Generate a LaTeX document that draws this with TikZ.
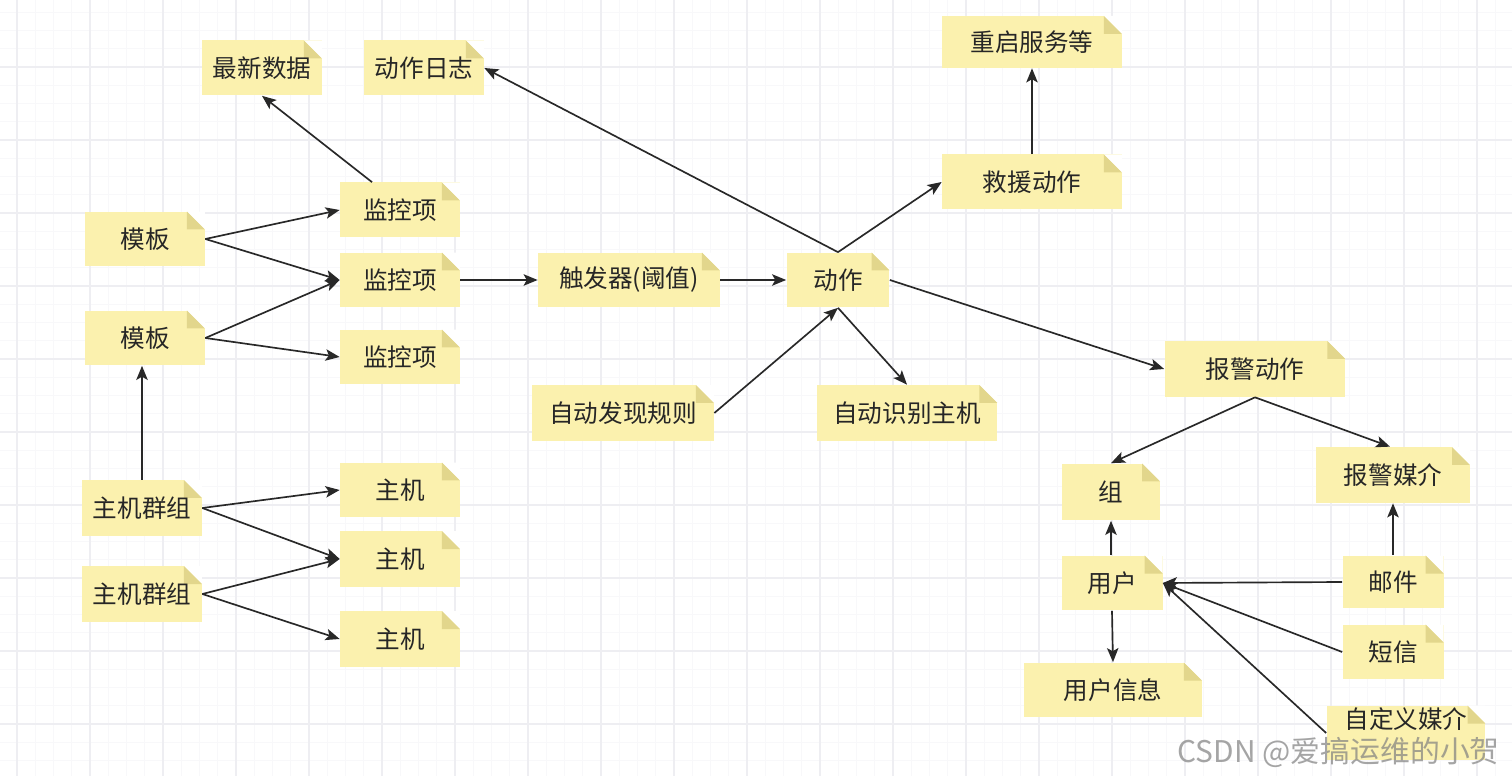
\documentclass[tikz,border=0pt]{standalone}
\usepackage{fontspec}
\setmainfont{Noto Sans CJK SC}
\usetikzlibrary{arrows.meta}

\definecolor{notefill}{RGB}{251,241,174}
\definecolor{notefold}{RGB}{226,214,140}
\definecolor{linecol}{RGB}{40,40,40}
\definecolor{gridminor}{RGB}{248,248,250}
\definecolor{gridmajor}{RGB}{238,238,242}

\tikzset{
  note/.style={fill=notefill, text=black!85, font=\fontsize{14}{16}\selectfont,
    minimum width=2.4cm, minimum height=1.1cm, inner sep=0pt,
    path picture={
      \fill[white] (path picture bounding box.north east) -- ++(-0.36cm,0) -- ++(0.36cm,-0.36cm) -- cycle;
      \fill[notefold] ([xshift=-0.36cm]path picture bounding box.north east) -- ++(0.36cm,-0.36cm) -- ++(-0.36cm,0) -- cycle;}},
  link/.style={-{Stealth[length=8pt,width=6.5pt,inset=1.8pt]}, draw=linecol, line width=0.95pt}
}

\begin{document}
\begin{tikzpicture}[x=0.02cm, y=-0.02cm]
    \useasboundingbox (0,0) rectangle (1512,776);
    \fill[white] (0,0) rectangle (1512,776);
    % 网格
    \foreach \i in {0,...,83} \draw[gridminor, line width=0.4pt] ({-1.25+18.25*\i},0) -- ++(0,776);
    \foreach \i in {0,...,43} \draw[gridminor, line width=0.4pt] (0,{-6+18.25*\i}) -- ++(1512,0);
    \foreach \i in {0,...,20} \draw[gridmajor, line width=0.6pt] ({17+73*\i},0) -- ++(0,776);
    \foreach \i in {0,...,10} \draw[gridmajor, line width=0.6pt] (0,{-6+73*\i}) -- ++(1512,0);

    % 节点
    \node[note] (news) at (262,68) {最新数据};
    \node[note] (alog) at (424,68) {动作日志};
    \node[note, minimum width=3.6cm, minimum height=1.04cm] (restart) at (1032,42) {重启服务等};
    \node[note] (t1) at (145,239) {模板};
    \node[note] (t2) at (145,338) {模板};
    \node[note] (m1) at (400,210) {监控项};
    \node[note] (m2) at (400,280) {监控项};
    \node[note] (m3) at (400,357) {监控项};
    \node[note, minimum width=3.64cm] (trig) at (629,280) {触发器(阈值)};
    \node[note, minimum width=2.06cm] (act) at (838,280) {动作};
    \node[note, minimum width=3.6cm] (rescue) at (1032,182) {救援动作};
    \node[note, minimum width=3.64cm, minimum height=1.12cm] (rule) at (623,413) {自动发现规则};
    \node[note, minimum width=3.62cm, minimum height=1.12cm] (idhost) at (907,413) {自动识别主机};
    \node[note, minimum width=3.62cm, minimum height=1.12cm] (alarm) at (1255,369) {报警动作};
    \node[note, minimum width=1.96cm, minimum height=1.14cm] (group) at (1111,492) {组};
    \node[note, minimum width=3.08cm, minimum height=1.12cm] (media) at (1393,475) {报警媒介};
    \node[note, minimum width=2.02cm] (user) at (1112,583) {用户};
    \node[note, minimum width=3.56cm] (uinfo) at (1113,690) {用户信息};
    \node[note, minimum width=2.02cm, minimum height=1.06cm] (mail) at (1393,582) {邮件};
    \node[note, minimum width=2.02cm] (sms) at (1393,652) {短信};
    \node[note, minimum width=3.18cm, text depth=0.5cm, text height=0.3cm] (custom) at (1406,733) {自定义媒介};
    \node[note, minimum height=1.12cm] (hg1) at (142,508) {主机群组};
    \node[note, minimum height=1.12cm] (hg2) at (142,594) {主机群组};
    \node[note] (h1) at (400,490) {主机};
    \node[note, minimum height=1.12cm] (h2) at (400,559) {主机};
    \node[note, minimum height=1.12cm] (h3) at (400,639) {主机};

    % 连线
    \draw[link] (t1.east) -- (m1.west);
    \draw[link] (t1.east) -- (m2.west);
    \draw[link] (t2.east) -- (m2.west);
    \draw[link] (t2.east) -- (m3.west);
    \draw[link] (hg1.north) -- (hg1.north |- t2.south);
    \draw[link] ([xshift=-0.56cm]m1.north) -- (news.south);
    \draw[link] (m2.east) -- (trig.west);
    \draw[link] (trig.east) -- (act.west);
    \draw[link] (rule.east) -- (act.south);
    \draw[link] (act.south) -- (idhost.north);
    \draw[link] (act.north) -- (alog.east);
    \draw[link] (act.north) -- (rescue.west);
    \draw[link] (rescue.north) -- (restart.south);
    \draw[link] (act.east) -- (alarm.west);
    \draw[link] (alarm.south) -- (group.north);
    \draw[link] (alarm.south) -- ([xshift=-0.06cm]media.north);
    \draw[link] (user.north -| group.south) -- (group.south);
    \draw[link] (user.south) -- (uinfo.north);
    \draw[link] (mail.north) -- (media.south);
    \draw[link] (mail.west) -- (user.east);
    \draw[link] (sms.west) -- (user.east);
    \draw[link] (custom.west) -- (user.east);
    \draw[link] (hg1.east) -- (h1.west);
    \draw[link] (hg1.east) -- (h2.west);
    \draw[link] (hg2.east) -- (h2.west);
    \draw[link] (hg2.east) -- (h3.west);

    % 水印
    \node[text=gray, opacity=0.7, font=\fontsize{17}{20}\selectfont, anchor=east] (mark) at (1506,752) {CSDN @爱搞运维的小贺};
\end{tikzpicture}
\end{document}
